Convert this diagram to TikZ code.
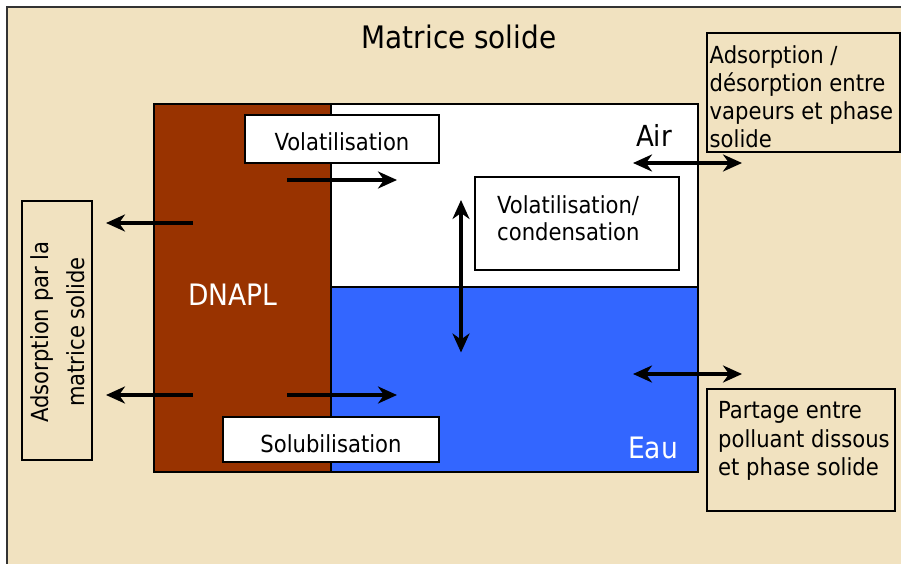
\documentclass[tikz,border=0pt]{standalone}
\usepackage{fontspec}
\setmainfont{DejaVu Sans Condensed}
\usetikzlibrary{arrows.meta}

\definecolor{parchment}{RGB}{241,226,192}
\definecolor{dnapl}{RGB}{153,51,0}
\definecolor{eau}{RGB}{51,102,255}

\begin{document}
\begin{tikzpicture}[x=1pt, y=-1pt,
    zone/.style={draw=black, line width=1.8pt},
    box/.style={draw=black, line width=1.8pt, inner sep=0pt},
    flux/.style={line width=3.4pt, -{Stealth[length=19pt, width=17pt, inset=6pt]}},
    flux2/.style={line width=3.4pt, {Stealth[length=19pt, width=17pt, inset=6pt]}-{Stealth[length=19pt, width=17pt, inset=6pt]}},
    small/.style={font=\fontsize{23.5}{28.3}\selectfont},
    big/.style={font=\fontsize{29.5}{34}\selectfont}]
    \useasboundingbox (0,0) rectangle (901,564);
    \fill[white] (0,0) rectangle (901,564);
    \fill[parchment] (7,7) rectangle (910,570);
    \draw[line width=2.2pt, black!80] (7,570) -- (7,7) -- (910,7);

    % les trois phases
    \draw[zone, fill=white] (331,104) rectangle (698,287);
    \draw[zone, fill=eau] (331,287) rectangle (698,472);
    \draw[zone, fill=dnapl] (154,104) rectangle (331,472);

    \node[font=\fontsize{31}{36}\selectfont, anchor=base] (titre) at (459,49) {Matrice solide};
    \node[big, white, anchor=base] (dnapl) at (233,305) {DNAPL};
    \node[font=\fontsize{29}{34}\selectfont, anchor=base] (air) at (654,147) {Air};
    \node[big, white, anchor=base] (eau) at (653,458.5) {Eau};

    % boites de texte
    \node[box, fill=white, small, minimum width=194pt, minimum height=48pt,
          text height=23pt, text depth=0pt] (volbox) at (342,139) {Volatilisation};
    \node[box, fill=white, small, minimum width=216pt, minimum height=45pt,
          text height=25pt, text depth=0pt] (solbox) at (331,439.5) {Solubilisation};
    \node[box, fill=white, minimum width=204pt, minimum height=93pt] (condbox) at (577,223.5) {};
    \node[anchor=north west, align=left, inner sep=0pt, font=\fontsize{23.5}{27}\selectfont]
          (condtxt) at (497,195) {Volatilisation/\\condensation};

    \node[box, minimum width=193pt, minimum height=119pt, anchor=north west] (adsvap) at (706,32) {};
    \node[small, anchor=north west, align=left, inner sep=0pt] (adsvaptxt) at (709.5,45)
          {Adsorption /\\désorption entre\\vapeurs et phase\\solide};

    \node[box, minimum width=188pt, minimum height=122pt, anchor=north west] (partage) at (706,388) {};
    \node[small, anchor=north west, align=left, inner sep=0pt] (partagetxt) at (718,401.5)
          {Partage entre\\polluant dissous\\et phase solide};

    \node[box, minimum width=70pt, minimum height=259pt] (adsmat) at (57,330.5) {};
    \node[rotate=90, align=center, inner sep=0pt, font=\fontsize{23.5}{36}\selectfont]
          (adsmattxt) at (58,332) {Adsorption par la\\matrice solide};

    % fleches
    \coordinate (v1) at (287,180); \coordinate (v2) at (397,180);
    \coordinate (s1) at (287,395); \coordinate (s2) at (397,395);
    \coordinate (g1) at (193,223); \coordinate (g2) at (106,223);
    \coordinate (g3) at (193,395); \coordinate (g4) at (106,395);
    \coordinate (c1) at (461,200); \coordinate (c2) at (461,352.5);
    \coordinate (a1) at (633,163); \coordinate (a2) at (742,163);
    \coordinate (e1) at (633,374); \coordinate (e2) at (742,374);
    \draw[flux] (v1) -- (v2);
    \draw[flux] (s1) -- (s2);
    \draw[flux] (g1) -- (g2);
    \draw[flux] (g3) -- (g4);
    \draw[flux2] (c1) -- (c2);
    \draw[flux2] (a1) -- (a2);
    \draw[flux2] (e1) -- (e2);
\end{tikzpicture}
\end{document}
